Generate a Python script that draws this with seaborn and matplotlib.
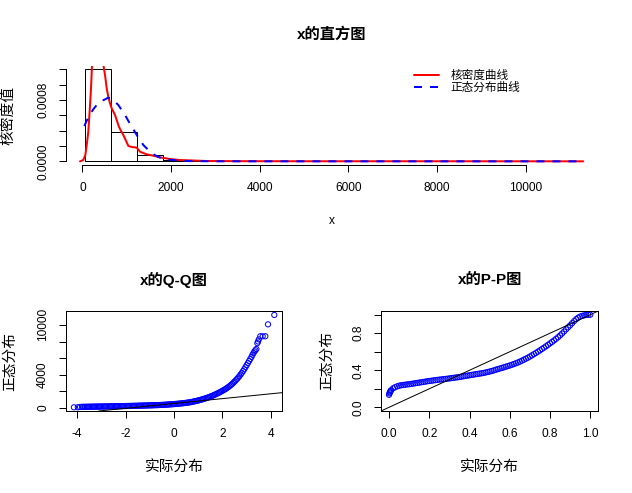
import matplotlib
matplotlib.use("Agg")
import matplotlib.pyplot as plt
from matplotlib.lines import Line2D
import seaborn as sns

# ---------------------------------------------------------
# values
# ---------------------------------------------------------
# histogram of x (density scale)
hist_edges = [70, 655, 1241, 1826, 2412, 2998, 3583, 4168, 4754, 5340,
              5925, 6510, 7096, 7682, 8267, 8852, 9438, 10024, 10609, 11195]
hist_density = [0.0012, 0.000378, 0.000082, 0.000018, 0.000006, 0.000003,
                0.000002, 0.000001, 0.000001, 0.0000005, 0.0000003, 0.0000003,
                0.0000002, 0.0000002, 0.0000002, 0.0000002, 0.0, 0.0000002,
                0.0000002]

# kernel density curve (red)
kde_x = [-52, 23, 68, 99, 135, 174, 196, 219, 260, 330, 400, 474, 512, 550,
         587, 625, 663, 738, 812, 850, 925, 1001, 1038, 1114, 1227, 1302,
         1452, 1602, 1753, 1978, 2204, 2806, 3500, 5000, 8000, 11300]
kde_y = [0.0, 0.000017, 0.000082, 0.000213, 0.000386, 0.000734, 0.00095,
         0.00126, 0.00150, 0.00162, 0.00155, 0.00126, 0.001126, 0.00095,
         0.00084, 0.000756, 0.00069, 0.000604, 0.000473, 0.000421, 0.000343,
         0.000248, 0.0002, 0.000187, 0.000178, 0.000125, 0.000091, 0.000073,
         0.000052, 0.00003, 0.000017, 0.000004, 0.000002, 0.000001, 0.000001,
         0.0]

# normal density curve (blue dashed)
norm_x = [45, 100, 174, 250, 324, 437, 587, 700, 812, 963, 1091, 1160, 1227,
          1300, 1376, 1527, 1640, 1753, 1860, 1978, 2400, 3000, 11300]
norm_y = [0.00046, 0.00053, 0.000613, 0.00068, 0.000734, 0.000786, 0.00083,
          0.0008, 0.000734, 0.000604, 0.000473, 0.00041, 0.000343, 0.00028,
          0.000213, 0.000125, 0.00008, 0.000047, 0.000032, 0.00002, 0.000003,
          0.0000005, 0.0]

# Q-Q plot points (theoretical quantile, sample value)
qq_theoretical = [
    -4.13, -3.97, -3.88,
    -3.80, -3.75, -3.70, -3.65, -3.60, -3.55, -3.50, -3.45, -3.40, -3.35,
    -3.30, -3.25, -3.20, -3.15, -3.10, -3.05, -3.00,
    -2.95, -2.90, -2.85, -2.80, -2.75, -2.70, -2.65, -2.60, -2.55, -2.50,
    -2.45, -2.40, -2.35, -2.30, -2.25, -2.20, -2.15, -2.10, -2.05, -2.00,
    -1.95, -1.90, -1.85, -1.80, -1.75, -1.70, -1.65, -1.60, -1.55, -1.50,
    -1.45, -1.40, -1.35, -1.30, -1.25, -1.20, -1.15, -1.10, -1.05, -1.00,
    -0.95, -0.90, -0.85, -0.80, -0.75, -0.70, -0.65, -0.60, -0.55, -0.50,
    -0.45, -0.40, -0.35, -0.30, -0.25, -0.20, -0.15, -0.10, -0.05, 0.00,
    0.05, 0.10, 0.15, 0.20, 0.25, 0.30, 0.35, 0.40, 0.45, 0.50,
    0.55, 0.60, 0.65, 0.70, 0.75, 0.80, 0.85, 0.90, 0.95, 1.00,
    1.05, 1.10, 1.15, 1.20, 1.25, 1.30, 1.35, 1.40, 1.45, 1.50,
    1.55, 1.60, 1.65, 1.70, 1.75, 1.80, 1.85, 1.90, 1.95, 2.00,
    2.05, 2.10, 2.15, 2.20, 2.25, 2.30, 2.35, 2.40, 2.45, 2.50,
    2.55, 2.60, 2.65, 2.70, 2.75, 2.80, 2.85, 2.90, 2.95, 3.00,
    3.05, 3.10, 3.15, 3.20, 3.24, 3.28, 3.32, 3.36, 3.40, 3.44,
    3.47, 3.50, 3.56, 3.66, 3.77, 3.88, 4.14]
qq_sample = [
    70, 75, 110,
    125, 128, 130, 133, 135, 138, 140, 143, 145, 148,
    150, 153, 155, 158, 160, 163, 165,
    168, 170, 173, 175, 178, 180, 183, 186, 189, 192,
    195, 198, 201, 204, 207, 210, 214, 217, 221, 224,
    228, 231, 235, 238, 242, 245, 249, 253, 257, 261,
    265, 269, 273, 277, 282, 286, 291, 295, 300, 304,
    309, 314, 319, 324, 330, 335, 341, 347, 354, 361,
    369, 377, 386, 395, 405, 415, 426, 437, 448, 460,
    472, 485, 498, 512, 526, 541, 557, 573, 590, 608,
    628, 650, 675, 700, 730, 760, 792, 825, 860, 895,
    935, 975, 1017, 1060, 1105, 1150, 1200, 1250, 1305, 1360,
    1420, 1480, 1545, 1610, 1680, 1750, 1825, 1900, 1980, 2060,
    2145, 2230, 2325, 2420, 2530, 2640, 2765, 2890, 3030, 3170,
    3325, 3480, 3655, 3830, 4025, 4220, 4440, 4660, 4905, 5150,
    5400, 5650, 5900, 6150, 6400, 6600, 6800, 6950, 7100, 7800,
    8000, 8250, 8630, 8630, 8630, 10070, 11200]
qq_line_intercept = 533
qq_line_slope = 292

# P-P plot points (empirical, normal probability)
pp_empirical = [
    0.0, 0.002, 0.004, 0.006, 0.008,
    0.01, 0.02, 0.03, 0.04, 0.05, 0.06, 0.07, 0.08, 0.09, 0.10,
    0.11, 0.12, 0.13, 0.14, 0.15, 0.16, 0.17, 0.18, 0.19, 0.20,
    0.21, 0.22, 0.23, 0.24, 0.25, 0.26, 0.27, 0.28, 0.29, 0.30,
    0.31, 0.32, 0.33, 0.34, 0.35, 0.36, 0.37, 0.38, 0.39, 0.40,
    0.41, 0.42, 0.43, 0.44, 0.45, 0.46, 0.47, 0.48, 0.49, 0.50,
    0.51, 0.52, 0.53, 0.54, 0.55, 0.56, 0.57, 0.58, 0.59, 0.60,
    0.61, 0.62, 0.63, 0.64, 0.65, 0.66, 0.67, 0.68, 0.69, 0.70,
    0.71, 0.72, 0.73, 0.74, 0.75, 0.76, 0.77, 0.78, 0.79, 0.80,
    0.81, 0.82, 0.83, 0.84, 0.85, 0.86, 0.87, 0.88, 0.89, 0.90,
    0.91, 0.92, 0.93, 0.94, 0.95, 0.96, 0.97, 0.98, 0.99, 1.00]
pp_normal = [
    0.135, 0.150, 0.160, 0.170, 0.178,
    0.185, 0.205, 0.217, 0.226, 0.233, 0.238, 0.241, 0.244, 0.247, 0.249,
    0.253, 0.256, 0.260, 0.263, 0.267, 0.270, 0.274, 0.277, 0.281, 0.284,
    0.287, 0.290, 0.293, 0.296, 0.299, 0.301, 0.304, 0.306, 0.309, 0.312,
    0.315, 0.318, 0.321, 0.324, 0.327, 0.331, 0.335, 0.339, 0.342, 0.346,
    0.350, 0.353, 0.357, 0.360, 0.364, 0.367, 0.371, 0.376, 0.381, 0.386,
    0.392, 0.398, 0.405, 0.412, 0.418, 0.425, 0.431, 0.438, 0.445, 0.452,
    0.459, 0.467, 0.475, 0.484, 0.493, 0.503, 0.514, 0.525, 0.536, 0.548,
    0.561, 0.574, 0.587, 0.601, 0.615, 0.630, 0.644, 0.659, 0.674, 0.690,
    0.706, 0.722, 0.739, 0.757, 0.776, 0.797, 0.819, 0.842, 0.864, 0.885,
    0.909, 0.932, 0.952, 0.968, 0.980, 0.988, 0.993, 0.997, 0.999, 1.000]

# ticks / labels
hist_xticks = [0, 2000, 4000, 6000, 8000, 10000]
hist_yticks = [0, 0.0002, 0.0004, 0.0006, 0.0008, 0.0010, 0.0012]
hist_yticklabels = ["0.0000", "", "", "", "0.0008", "", ""]
qq_xticks = [-4, -2, 0, 2, 4]
qq_yticks = [0, 2000, 4000, 6000, 8000, 10000]
qq_yticklabels = ["0", "", "4000", "", "", "10000"]
pp_ticks = [0.0, 0.2, 0.4, 0.6, 0.8, 1.0]
pp_xticklabels = ["0.0", "0.2", "0.4", "0.6", "0.8", "1.0"]
pp_yticklabels = ["0.0", "", "0.4", "", "0.8", ""]

# ---------------------------------------------------------
# style
# ---------------------------------------------------------
sns.set_style("ticks")
plt.rcParams["font.family"] = ["Liberation Sans", "Noto Sans CJK SC"]
plt.rcParams["text.color"] = "black"
plt.rcParams["axes.labelcolor"] = "black"
plt.rcParams["axes.linewidth"] = 0.72
plt.rcParams["axes.edgecolor"] = "black"
for a in ("xtick", "ytick"):
    plt.rcParams[f"{a}.major.width"] = 0.72
    plt.rcParams[f"{a}.major.size"] = 5
    plt.rcParams[f"{a}.major.pad"] = 7
    plt.rcParams[f"{a}.color"] = "black"
    plt.rcParams[f"{a}.labelcolor"] = "black"
    plt.rcParams[f"{a}.labelsize"] = 8.6

TICK_FS = 8.6
LABEL_FS = 10.6
TITLE_FS = 11
LEG_FS = 8.4
LW = 1.44   # R lwd=2 at 72 dpi
THIN = 0.72

W, H = 632, 493


def px_box(left, top, right, bottom):
    return [left / W, 1 - bottom / H, (right - left) / W, (bottom - top) / H]


fig = plt.figure(figsize=(W / 100, H / 100), dpi=100)
ax_h = fig.add_axes(px_box(65.7, 65.6, 598.3, 165))
ax_q = fig.add_axes(px_box(65.7, 311.3, 282.3, 411))
ax_p = fig.add_axes(px_box(381, 311, 598.3, 411))


def place_labels(ax, title, xlabel, ylabel, title_y, xlabel_y, ylabel_x,
                 xlabel_fs=LABEL_FS):
    ax.set_title(title, fontsize=TITLE_FS, fontweight="bold", y=title_y,
                 va="center", pad=0)
    ax.set_xlabel(xlabel, fontsize=xlabel_fs)
    ax.set_ylabel(ylabel, fontsize=LABEL_FS)
    ax.xaxis.label.set_va("center")
    ax.yaxis.label.set_va("center")
    ax.xaxis.set_label_coords(0.5, xlabel_y)
    ax.yaxis.set_label_coords(ylabel_x, 0.5)
    for lab in ax.get_yticklabels():
        lab.set_rotation(90)
        lab.set_va("center")


def open_circles(ax):
    pts = ax.collections[-1]
    pts.set_facecolor("none")
    pts.set_edgecolor("blue")


# ---------------------------------------------------------
# 1) histogram with density curves
# ---------------------------------------------------------
sns.histplot(x=hist_edges[:-1], weights=hist_density, bins=hist_edges,
             stat="count", fill=False, color="black", linewidth=THIN,
             ax=ax_h)
sns.lineplot(x=kde_x, y=kde_y, color="red", linewidth=LW, estimator=None,
             sort=False, ax=ax_h)
sns.lineplot(x=norm_x, y=norm_y, color="blue", linewidth=LW,
             linestyle=(0, (4, 4)), estimator=None, sort=False, ax=ax_h)

ax_h.set_xlim(-375, 11640)
ax_h.set_ylim(-0.000048, 0.001248)
ax_h.set_xticks(hist_xticks)
ax_h.set_xticklabels([str(t) for t in hist_xticks])
ax_h.set_yticks(hist_yticks)
ax_h.set_yticklabels(hist_yticklabels)
ax_h.spines["top"].set_visible(False)
ax_h.spines["right"].set_visible(False)
ax_h.spines["bottom"].set_bounds(0, 10000)
ax_h.spines["left"].set_bounds(0, 0.0012)
place_labels(ax_h, "x的直方图", "x", "核密度值", 1.318, -0.563, -0.107,
             xlabel_fs=TICK_FS)

handles = [Line2D([], [], color="red", lw=LW),
           Line2D([], [], color="blue", lw=LW, linestyle=(0, (4, 4)))]
ax_h.legend(handles, ["核密度曲线", "正态分布曲线"], loc="center left",
            bbox_to_anchor=(414.3 / W, 1 - 81.7 / H),
            bbox_transform=fig.transFigure, frameon=False, fontsize=LEG_FS,
            handlelength=2.1, handletextpad=1.0, labelspacing=0.0,
            borderpad=0, borderaxespad=0)

# ---------------------------------------------------------
# 2) Q-Q plot
# ---------------------------------------------------------
sns.scatterplot(x=qq_theoretical, y=qq_sample, marker="o", s=14,
                color="blue", linewidth=THIN, ax=ax_q)
open_circles(ax_q)
ax_q.axline((0, qq_line_intercept), slope=qq_line_slope, color="black",
            linewidth=THIN)
ax_q.set_xlim(-4.47, 4.47)
ax_q.set_ylim(-375, 11640)
ax_q.set_xticks(qq_xticks)
ax_q.set_xticklabels([str(t) for t in qq_xticks])
ax_q.set_yticks(qq_yticks)
ax_q.set_yticklabels(qq_yticklabels)
place_labels(ax_q, "x的Q-Q图", "实际分布", "正态分布", 1.314, -0.562, -0.257)

# ---------------------------------------------------------
# 3) P-P plot
# ---------------------------------------------------------
sns.scatterplot(x=pp_empirical, y=pp_normal, marker="o", s=14,
                color="blue", linewidth=THIN, ax=ax_p)
open_circles(ax_p)
ax_p.axline((0, 0), slope=1, color="black", linewidth=THIN)
ax_p.set_xlim(-0.04, 1.04)
ax_p.set_ylim(-0.04, 1.04)
ax_p.set_xticks(pp_ticks)
ax_p.set_xticklabels(pp_xticklabels)
ax_p.set_yticks(pp_ticks)
ax_p.set_yticklabels(pp_yticklabels)
place_labels(ax_p, "x的P-P图", "实际分布", "正态分布", 1.314, -0.562, -0.25)

fig.savefig("out.png", dpi=100)
